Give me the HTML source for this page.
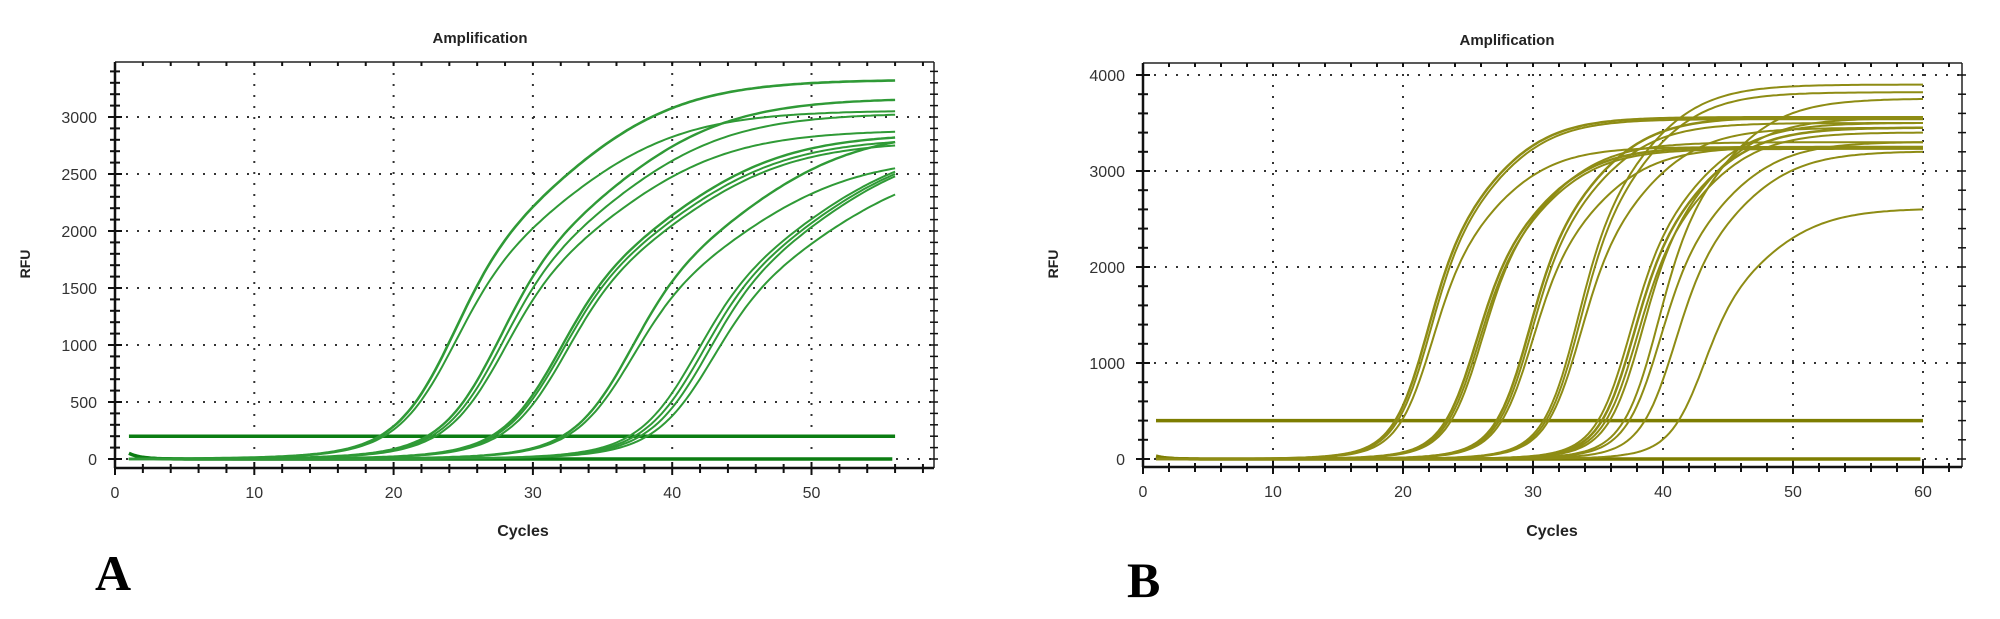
<!DOCTYPE html>
<html><head><meta charset="utf-8"><style>
html,body{margin:0;padding:0;background:#fff;width:2000px;height:619px;overflow:hidden}
svg text{font-family:"Liberation Sans",sans-serif}
</style></head><body>
<svg id="s" width="2000" height="619" xmlns="http://www.w3.org/2000/svg">
<text x="480" y="43" font-size="15" font-weight="bold" text-anchor="middle" fill="#222">Amplification</text>
<text x="523" y="536" font-size="16" font-weight="bold" text-anchor="middle" fill="#222">Cycles</text>
<text transform="translate(30,264) rotate(-90)" font-size="14" font-weight="bold" text-anchor="middle" fill="#222">RFU</text>
<text x="95" y="590" font-size="50" font-weight="bold" style="font-family:'Liberation Serif',serif">A</text>
<text x="1507" y="45" font-size="15" font-weight="bold" text-anchor="middle" fill="#222">Amplification</text>
<text x="1552" y="536" font-size="16" font-weight="bold" text-anchor="middle" fill="#222">Cycles</text>
<text transform="translate(1058,264) rotate(-90)" font-size="14" font-weight="bold" text-anchor="middle" fill="#222">RFU</text>
<text x="1127" y="597" font-size="50" font-weight="bold" style="font-family:'Liberation Serif',serif">B</text>
<g id="g"></g>
</svg>
<script>
var g=document.getElementById('g'),h='';
function L(x1,y1,x2,y2,st){h+='<line x1="'+x1+'" y1="'+y1+'" x2="'+x2+'" y2="'+y2+'" '+st+'/>';}
function T(x,y,t,a){h+='<text x="'+x+'" y="'+y+'" font-size="16" text-anchor="'+a+'" fill="#333">'+t+'</text>';}
function chart(o){
 var X=function(c){return o.x0+c*o.px},Y=function(v){return o.y0-v*o.py};
 for(var c=10;c<=o.xmax;c+=10)L(X(c),o.top,X(c),o.bot,'stroke="#333" stroke-width="2" stroke-dasharray="2,9"');
 for(var v=o.ystep;v<=o.ymax;v+=o.ystep)L(o.x0,Y(v),o.right,Y(v),'stroke="#333" stroke-width="2" stroke-dasharray="2,9"');
 L(o.x0,Y(0),o.right,Y(0),'stroke="#333" stroke-width="2" stroke-dasharray="2,9"');
 L(o.x0,o.top,o.right,o.top,'stroke="#222" stroke-width="1.5"');
 L(o.right,o.top,o.right,o.bot,'stroke="#222" stroke-width="1.5"');
 L(o.x0,o.top,o.x0,o.bot,'stroke="#111" stroke-width="2.5"');
 L(o.x0,o.bot,o.right,o.bot,'stroke="#111" stroke-width="2.5"');
 for(var c=0;X(c)<=o.right;c+=2){var big=c%10==0;L(X(c),o.bot-(big?6:4),X(c),o.bot+(big?7:5),'stroke="#111" stroke-width="2"');L(X(c),o.top,X(c),o.top+4,'stroke="#111" stroke-width="2"');if(big)T(X(c),o.bot+30,c,'middle');}
 for(var v=0;Y(v)>=o.top;v+=o.minor){var big=v%o.ystep==0;L(o.x0-(big?7:5),Y(v),o.x0+(big?7:5),Y(v),'stroke="#111" stroke-width="2"');L(o.right-4,Y(v),o.right+4,Y(v),'stroke="#111" stroke-width="1.5"');if(big)T(o.x0-18,Y(v)+6,v,'end');}
 L(X(1),Y(o.thr),X(o.xmax),Y(o.thr),'stroke="'+o.tc+'" stroke-width="3.5"');
 var bp='M'+X(1)+','+(Y(o.b0));for(var c=1.2;c<=o.xmax;c+=0.2){var v=o.b0*Math.exp(-(c-1)*1.2);bp+='L'+X(c).toFixed(1)+','+Y(v).toFixed(1);}
 h+='<path d="'+bp+'" fill="none" stroke="'+o.tc+'" stroke-width="3.5"/>';
 var s=o.shape;
 function sh(c,m){return s.w/(1+Math.exp(-(c-m)/s.kA))+(1-s.w)/(1+Math.exp(-(c-m-s.off)/s.kB));}
 o.curves.forEach(function(q){var ct=q[0],end=q[1],F=end,m=ct;
  for(var it=0;it<8;it++){var lo=ct-5,hi=ct+30;for(var j=0;j<50;j++){var mid=(lo+hi)/2;if(F*sh(ct,mid)>o.thr)lo=mid;else hi=mid;}m=(lo+hi)/2;F=end/sh(o.xmax,m);}
  var d='';
  for(var c=1;c<=o.xmax+0.01;c+=0.25){var v=F*sh(c,m);d+=(d?'L':'M')+X(c).toFixed(1)+','+Y(v).toFixed(1);}
  h+='<path d="'+d+'" fill="none" stroke="'+o.cc+'" stroke-width="'+(q[2]||2)+'"/>';});
}
chart({x0:115,px:13.93,y0:459,py:0.114,top:62,bot:468,right:934,xmax:56,ymax:3000,ystep:500,minor:100,thr:200,b0:50,tc:'#0b7d12',cc:'#2f9a36',
shape:{w:0.5,kA:2,kB:4.5,off:8},
curves:[[19,3320,2.6],[19.3,3050],[22.4,3150,2.4],[22.7,3020],[23,2870],[27,2820,2.4],[27.2,2780],[27.5,2750],[32.1,2780,2.4],[32.4,2550],[36.9,2520],[37.3,2500],[37.7,2480],[38.2,2320]]});
chart({x0:1143,px:13,y0:459,py:0.096,top:63,bot:467,right:1962,xmax:60,ymax:4000,ystep:1000,minor:200,thr:400,b0:30,tc:'#7d7d00',cc:'#8e8c14',
shape:{w:0.55,kA:1.25,kB:2.8,off:4},
curves:[[19.4,3560,2.5],[19.6,3540],[19.9,3250],[23.3,3250,2.5],[23.5,3230],[23.7,3300],[27.2,3560,2.5],[27.4,3500],[27.6,3250],[30.8,3900],[31,3820],[31.2,3450],[35,3500],[35.3,3450,2.5],[35.6,3400],[35.9,3550],[37,3750],[37.4,3300],[38.6,3200],[41.2,2600]]});
g.innerHTML=h;
</script>
</body></html>
